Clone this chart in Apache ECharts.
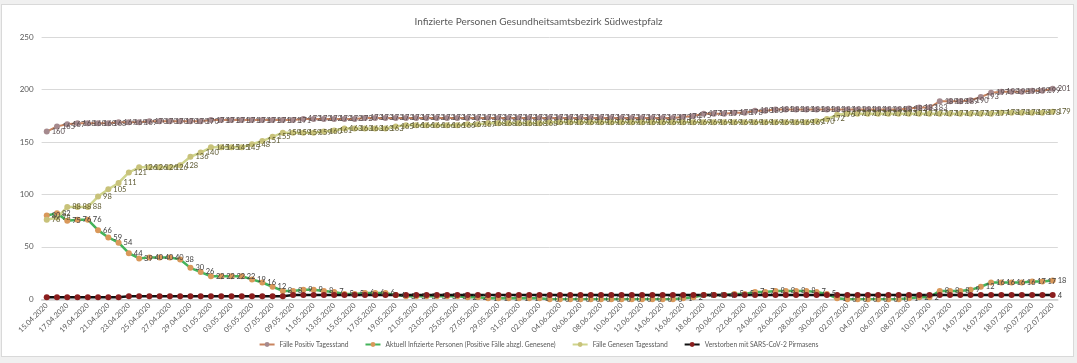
<!DOCTYPE html>
<html><head><meta charset="utf-8">
<script src="https://cdn.jsdelivr.net/npm/echarts@6/dist/echarts.min.js"></script>
<style>
html,body{margin:0;padding:0;background:#f0f0f0;width:1077px;height:363px;overflow:hidden}
#frame{position:absolute;left:1px;top:4px;width:1071px;height:351px;background:#fff;border:1px solid #d9d9d9}
#chart{position:absolute;left:0;top:0;width:1077px;height:363px}
</style></head><body>
<div id="frame"></div>
<div id="chart"></div>
<script>
const dates = ["15.04.2020","16.04.2020","17.04.2020","18.04.2020","19.04.2020","20.04.2020","21.04.2020","22.04.2020","23.04.2020","24.04.2020",
"25.04.2020","26.04.2020","27.04.2020","28.04.2020","29.04.2020","30.04.2020","01.05.2020","02.05.2020","03.05.2020","04.05.2020",
"05.05.2020","06.05.2020","07.05.2020","08.05.2020","09.05.2020","10.05.2020","11.05.2020","12.05.2020","13.05.2020","14.05.2020",
"15.05.2020","16.05.2020","17.05.2020","18.05.2020","19.05.2020","20.05.2020","21.05.2020","22.05.2020","23.05.2020","24.05.2020",
"25.05.2020","26.05.2020","27.05.2020","28.05.2020","29.05.2020","30.05.2020","31.05.2020","01.06.2020","02.06.2020","03.06.2020",
"04.06.2020","05.06.2020","06.06.2020","07.06.2020","08.06.2020","09.06.2020","10.06.2020","11.06.2020","12.06.2020","13.06.2020",
"14.06.2020","15.06.2020","16.06.2020","17.06.2020","18.06.2020","19.06.2020","20.06.2020","21.06.2020","22.06.2020","23.06.2020",
"24.06.2020","25.06.2020","26.06.2020","27.06.2020","28.06.2020","29.06.2020","30.06.2020","01.07.2020","02.07.2020","03.07.2020",
"04.07.2020","05.07.2020","06.07.2020","07.07.2020","08.07.2020","09.07.2020","10.07.2020","11.07.2020","12.07.2020","13.07.2020",
"14.07.2020","15.07.2020","16.07.2020","17.07.2020","18.07.2020","19.07.2020","20.07.2020","21.07.2020","22.07.2020"];

const positiv = [160,165,167,168,168,168,168,169,169,169,
170,170,170,170,170,170,171,171,171,171,
171,171,171,171,171,172,172,172,172,172,
172,173,173,173,173,173,173,173,173,173,
173,173,173,173,173,173,173,173,173,173,
173,173,173,173,173,173,173,173,173,173,
173,173,174,175,177,177,177,178,178,180,
180,181,181,181,181,181,181,181,181,181,
181,181,181,181,182,183,183,189,189,189,
190,193,197,198,198,198,199,199,201];

const aktuell = [80,82,75,76,76,66,59,54,44,39,
40,40,40,38,30,26,22,22,22,22,
19,16,12,8,8,9,9,8,7,5,
5,6,6,6,4,3,3,3,3,3,
3,2,2,1,1,1,1,1,1,0,
0,0,0,0,0,0,0,0,0,0,
0,0,1,2,4,4,4,5,5,7,
7,8,8,8,8,7,5,1,0,0,
0,0,0,0,1,2,2,8,8,8,
9,12,16,16,16,16,17,17,18];

const genesen = [76,78,88,88,88,98,105,111,121,126,
126,126,126,128,136,140,145,145,145,145,
148,151,155,159,159,159,159,160,161,163,
163,163,163,163,165,166,166,166,166,166,
166,167,167,168,168,168,168,168,168,169,
169,169,169,169,169,169,169,169,169,169,
169,169,169,169,169,169,169,169,169,169,
169,169,169,169,169,170,172,176,177,177,
177,177,177,177,177,177,177,177,177,177,
177,177,177,178,178,178,178,178,179];

const verstorben = [2,2,2,2,2,2,2,2,3,3,
3,3,3,3,3,3,3,3,3,3,
3,3,3,3,4,4,4,4,4,4,
4,4,4,4,4,4,4,4,4,4,
4,4,4,4,4,4,4,4,4,4,
4,4,4,4,4,4,4,4,4,4,
4,4,4,4,4,4,4,4,4,4,
4,4,4,4,4,4,4,4,4,4,
4,4,4,4,4,4,4,4,4,4,
4,4,4,4,4,4,4,4,4];

const FONT = 'Lato, "Open Sans", sans-serif';

function mk(name, data, lineColor, markColor, labelColor, lw, onlyLast) {
  return {
    name: name, type: 'line', data: data,
    symbol: 'circle', symbolSize: 6,
    lineStyle: {color: lineColor, width: lw},
    itemStyle: {color: markColor},
    label: {
      show: true, position: 'right', distance: 2,
      fontSize: 7.5, color: labelColor, fontFamily: FONT,
      formatter: onlyLast ? (p => p.dataIndex === data.length - 1 ? String(p.value) : '') : '{c}'
    },
    emphasis: {disabled: true},
    animation: false
  };
}

const chart = echarts.init(document.getElementById('chart'), null, {renderer: 'canvas'});
chart.setOption({
  animation: false,
  title: {
    text: 'Infizierte Personen Gesundheitsamtsbezirk Südwestpfalz',
    left: 'center', top: 12,
    textStyle: {fontSize: 10, color: '#595959', fontWeight: 'normal', fontFamily: FONT}
  },
  legend: {
    top: 336, left: 'center',
    itemWidth: 15, itemHeight: 6, itemGap: 16,
    textStyle: {fontSize: 6.7, color: '#595959', fontFamily: FONT}
  },
  grid: {left: 41.6, right: 19.2, top: 37.3, bottom: 63.7, containLabel: false},
  xAxis: {
    type: 'category', data: dates, boundaryGap: true,
    axisTick: {show: false},
    axisLine: {lineStyle: {color: '#d0d0d0', width: 1.5}},
    axisLabel: {interval: 1, rotate: 45, fontSize: 7.5, color: '#595959', margin: 5, fontFamily: FONT}
  },
  yAxis: {
    type: 'value', min: 0, max: 250, interval: 50,
    axisLine: {show: false}, axisTick: {show: false},
    axisLabel: {fontSize: 8, color: '#595959', margin: 8, fontFamily: FONT},
    splitLine: {lineStyle: {color: '#d9d9d9', width: 1}}
  },
  series: [
    mk('Fälle Positiv Tagesstand', positiv, '#c9845f', '#a58a8e', '#574a4c', 2, false),
    mk('Aktuell Infizierte Personen (Positive Fälle abzgl. Genesene)', aktuell, '#45b35a', '#d9985a', '#404040', 2.5, false),
    mk('Fälle Genesen Tagesstand', genesen, '#cfd48c', '#c8c27a', '#5c5830', 2.5, false),
    mk('Verstorben mit SARS-CoV-2 Pirmasens', verstorben, '#111111', '#8b1e1e', '#404040', 2.5, true)
  ]
});
</script>
</body></html>
